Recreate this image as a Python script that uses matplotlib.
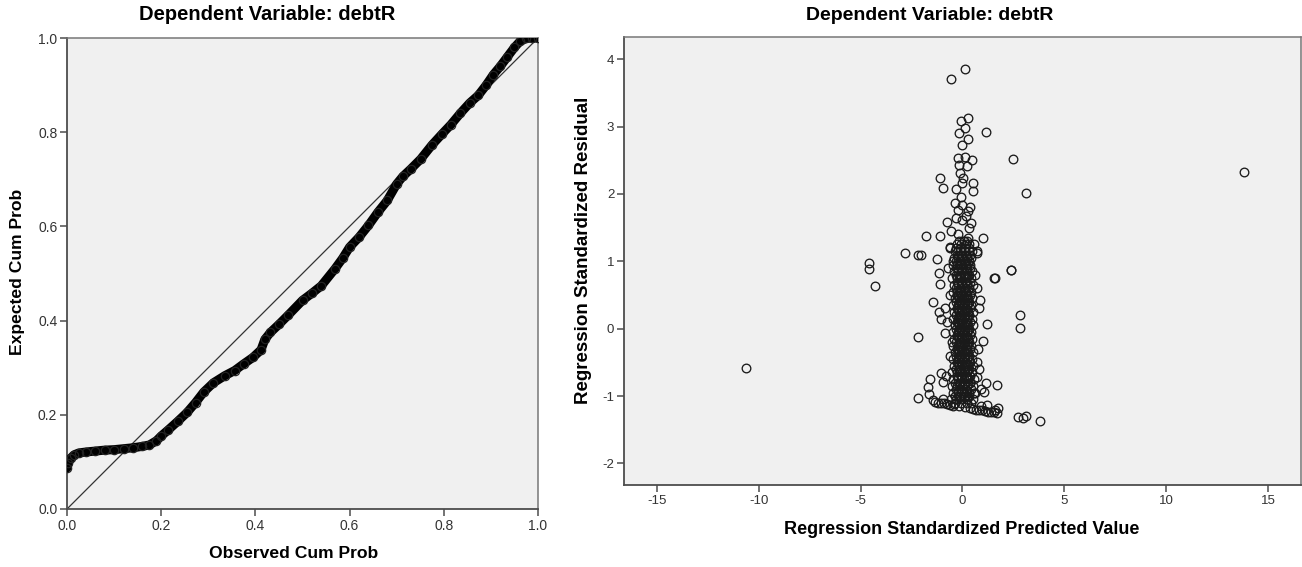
import matplotlib
matplotlib.use("Agg")
import matplotlib.pyplot as plt

plt.rcParams['font.family'] = ['Liberation Sans', 'DejaVu Sans']
plt.rcParams['axes.unicode_minus'] = False

# P-P plot of standardized residuals
observed_cum = [0.000, 0.003, 0.008, 0.015, 0.025, 0.040, 0.060, 0.080, 0.100, 0.120,
                0.140, 0.160, 0.175, 0.190, 0.200, 0.215, 0.235, 0.255, 0.273, 0.290,
                0.311, 0.335, 0.356, 0.375, 0.395, 0.412, 0.420, 0.432, 0.450, 0.470,
                0.500, 0.520, 0.540, 0.569, 0.585, 0.600, 0.620, 0.640, 0.660, 0.680,
                0.700, 0.713, 0.730, 0.751, 0.775, 0.797, 0.815, 0.835, 0.855, 0.873,
                0.890, 0.905, 0.920, 0.935, 0.950, 0.962, 0.975, 0.988, 1.000]
expected_cum = [0.087, 0.098, 0.108, 0.115, 0.119, 0.121, 0.123, 0.125, 0.126, 0.128,
                0.130, 0.133, 0.136, 0.145, 0.155, 0.168, 0.186, 0.205, 0.226, 0.248,
                0.268, 0.283, 0.294, 0.308, 0.322, 0.338, 0.360, 0.375, 0.392, 0.412,
                0.443, 0.458, 0.474, 0.510, 0.532, 0.556, 0.577, 0.602, 0.630, 0.655,
                0.690, 0.706, 0.722, 0.743, 0.773, 0.797, 0.816, 0.840, 0.862, 0.878,
                0.900, 0.922, 0.940, 0.960, 0.980, 0.993, 0.999, 1.000, 1.000]

# Scatterplot: standardized predicted value vs standardized residual
pred_outliers = [-10.6, 13.8, -4.6, -4.6, -4.3, -2.8, -2.2, -2.05, -2.18, -2.2,
                 2.5, 3.1, 1.15, 2.4, 1.6, 2.8, 2.8, 2.7, 2.95, 3.1, 3.8,
                 -0.58, 0.12]
resid_outliers = [-0.58, 2.33, 0.97, 0.88, 0.64, 1.12, 1.10, 1.09, -0.12, -1.03,
                  2.52, 2.02, 2.92, 0.87, 0.76, 0.20, 0.01, -1.31, -1.33, -1.30, -1.37,
                  3.70, 3.86]

pred_upper = [0.28, -0.08, 0.12, -0.19, 0.28, 0.0, -0.21, 0.12, 0.45, -0.16,
              0.20, -0.13, 0.03, -0.04, -1.08, -0.98, 0.53, 0.53, -0.33, -0.08,
              -0.37, -0.04, 0.25, -0.24, -0.78, 0.41, -0.04, -1.80, -1.08, 0.99,
              -1.27, -1.17, -1.11, 2.38, 1.56, -1.44, -1.14, -1.06, -0.86, 0.86,
              1.18, -0.62, 0.69, -0.86, 1.02, 0.69, 1.15, 1.71, 1.05, -1.60,
              -1.69, -1.64, -1.03, -0.95, -0.55, 0.30, 0.55, -0.60, 0.70, -0.30,
              0.15, 0.05, -0.20, 0.25, -0.45, 0.60, 0.70, -0.60, -0.70, 0.80,
              -0.75, 0.75, -0.60, 0.70, 0.80, -0.80, 0.90, 0.60, -0.50, 0.35]
resid_upper = [3.13, 3.08, 2.98, 2.90, 2.82, 2.73, 2.54, 2.55, 2.51, 2.43,
               2.41, 2.31, 2.23, 2.16, 2.23, 2.09, 2.16, 2.05, 2.08, 1.96,
               1.86, 1.84, 1.74, 1.76, 1.59, 1.57, 1.62, 1.38, 1.37, 1.35,
               1.03, 0.82, 0.66, 0.87, 0.75, 0.39, 0.25, 0.15, 0.30, 0.43,
               0.07, 1.22, 1.12, -0.07, -0.18, -0.71, -0.80, -0.83, -0.94, -0.75,
               -0.86, -0.97, -0.66, -0.79, 1.45, 1.50, 1.25, 1.20, 1.15, 1.65,
               1.68, 1.30, 1.40, 1.35, 1.00, 0.80, 0.60, 0.50, 0.90, 0.30,
               0.10, -0.30, -0.40, -0.50, -0.60, -0.70, -0.90, -0.95, -0.20, 1.80]

pred_core = [-0.25, -0.05, 0.15, 0.30,
             -0.35, -0.10, 0.10, 0.30, 0.45,
             -0.40, -0.20, 0.00, 0.20, 0.40,
             -0.45, -0.25, -0.05, 0.15, 0.35,
             -0.40, -0.20, 0.00, 0.20, 0.45,
             -0.50, -0.25, -0.05, 0.15, 0.40,
             -0.40, -0.20, 0.00, 0.20, 0.50,
             -0.45, -0.25, -0.05, 0.15, 0.40,
             -0.35, -0.15, 0.05, 0.25, 0.45,
             -0.45, -0.20, 0.00, 0.20, 0.40,
             -0.40, -0.15, 0.05, 0.25, 0.50,
             -0.45, -0.20, 0.00, 0.20, 0.45,
             -0.35, -0.15, 0.05, 0.25, 0.50,
             -0.45, -0.20, 0.00, 0.20, 0.40,
             -0.40, -0.15, 0.05, 0.25, 0.45,
             -0.45, -0.20, 0.00, 0.20, 0.40,
             -0.35, -0.15, 0.05, 0.25, 0.50,
             -0.45, -0.20, 0.00, 0.20, 0.45,
             -0.40, -0.15, 0.05, 0.25, 0.50,
             -0.50, -0.25, 0.00, 0.20, 0.45,
             -0.45, -0.20, 0.05, 0.25, 0.55,
             -0.50, -0.25, 0.00, 0.20, 0.50,
             -0.45, -0.20, 0.05, 0.30, 0.55,
             -0.55, -0.30, -0.05, 0.20, 0.50,
             -0.40, -0.15, 0.10, 0.35]
resid_core = [1.25, 1.25, 1.25, 1.25,
              1.15, 1.15, 1.15, 1.15, 1.15,
              1.05, 1.05, 1.05, 1.05, 1.05,
              0.95, 0.95, 0.95, 0.95, 0.95,
              0.85, 0.85, 0.85, 0.85, 0.85,
              0.75, 0.75, 0.75, 0.75, 0.75,
              0.65, 0.65, 0.65, 0.65, 0.65,
              0.55, 0.55, 0.55, 0.55, 0.55,
              0.45, 0.45, 0.45, 0.45, 0.45,
              0.35, 0.35, 0.35, 0.35, 0.35,
              0.25, 0.25, 0.25, 0.25, 0.25,
              0.15, 0.15, 0.15, 0.15, 0.15,
              0.05, 0.05, 0.05, 0.05, 0.05,
              -0.05, -0.05, -0.05, -0.05, -0.05,
              -0.15, -0.15, -0.15, -0.15, -0.15,
              -0.25, -0.25, -0.25, -0.25, -0.25,
              -0.35, -0.35, -0.35, -0.35, -0.35,
              -0.45, -0.45, -0.45, -0.45, -0.45,
              -0.55, -0.55, -0.55, -0.55, -0.55,
              -0.65, -0.65, -0.65, -0.65, -0.65,
              -0.75, -0.75, -0.75, -0.75, -0.75,
              -0.85, -0.85, -0.85, -0.85, -0.85,
              -0.95, -0.95, -0.95, -0.95, -0.95,
              -1.05, -1.05, -1.05, -1.05, -1.05,
              -1.12, -1.14, -1.16, -1.17]

# second, denser layer in the middle of the column
pred_dense = [-0.15, 0.05, 0.20,
              -0.30, -0.10, 0.10, 0.30,
              -0.25, -0.05, 0.15, 0.35,
              -0.30, -0.10, 0.10, 0.30,
              -0.25, -0.05, 0.15, 0.35,
              -0.30, -0.10, 0.10, 0.30,
              -0.25, -0.05, 0.15, 0.35,
              -0.30, -0.10, 0.10, 0.30,
              -0.25, -0.05, 0.15, 0.35,
              -0.30, -0.10, 0.10, 0.30,
              -0.25, -0.05, 0.15, 0.35,
              -0.30, -0.10, 0.10, 0.30,
              -0.25, -0.05, 0.15, 0.35,
              -0.30, -0.10, 0.10, 0.30,
              -0.25, -0.05, 0.15, 0.35,
              -0.30, -0.10, 0.10, 0.30,
              -0.25, -0.05, 0.15, 0.35,
              -0.30, -0.10, 0.10, 0.30,
              -0.25, -0.05, 0.15, 0.35,
              -0.30, -0.10, 0.10, 0.30,
              -0.25, -0.05, 0.15, 0.35,
              -0.35, -0.10, 0.10, 0.35,
              -0.30, -0.05, 0.15, 0.40,
              -0.35, -0.10, 0.10, 0.30,
              -0.35, -0.05, 0.20, 0.40]
resid_dense = [1.30, 1.30, 1.30,
               1.20, 1.20, 1.20, 1.20,
               1.10, 1.10, 1.10, 1.10,
               1.00, 1.00, 1.00, 1.00,
               0.90, 0.90, 0.90, 0.90,
               0.80, 0.80, 0.80, 0.80,
               0.70, 0.70, 0.70, 0.70,
               0.60, 0.60, 0.60, 0.60,
               0.50, 0.50, 0.50, 0.50,
               0.40, 0.40, 0.40, 0.40,
               0.30, 0.30, 0.30, 0.30,
               0.20, 0.20, 0.20, 0.20,
               0.10, 0.10, 0.10, 0.10,
               0.00, 0.00, 0.00, 0.00,
               -0.10, -0.10, -0.10, -0.10,
               -0.20, -0.20, -0.20, -0.20,
               -0.30, -0.30, -0.30, -0.30,
               -0.40, -0.40, -0.40, -0.40,
               -0.50, -0.50, -0.50, -0.50,
               -0.60, -0.60, -0.60, -0.60,
               -0.70, -0.70, -0.70, -0.70,
               -0.80, -0.80, -0.80, -0.80,
               -0.90, -0.90, -0.90, -0.90,
               -1.00, -1.00, -1.00, -1.00,
               -1.10, -1.10, -1.10, -1.10]

# third layer filling the darkest part of the column
pred_center = [-0.20, 0.00, 0.20,
               -0.15, 0.05, 0.25,
               -0.20, 0.00, 0.20,
               -0.15, 0.05, 0.25,
               -0.20, 0.00, 0.20,
               -0.15, 0.05, 0.25,
               -0.20, 0.00, 0.20,
               -0.15, 0.05, 0.25,
               -0.20, 0.00, 0.20,
               -0.15, 0.05, 0.25,
               -0.20, 0.00, 0.20,
               -0.15, 0.05, 0.25,
               -0.20, 0.00, 0.20,
               -0.15, 0.05, 0.25,
               -0.20, 0.00, 0.20,
               -0.15, 0.05, 0.25,
               -0.20, 0.00, 0.20,
               -0.15, 0.05, 0.25,
               -0.20, 0.00, 0.20,
               -0.15, 0.05, 0.25,
               -0.20, 0.00, 0.20,
               -0.15, 0.05, 0.25]
resid_center = [1.08, 1.08, 1.08,
                0.98, 0.98, 0.98,
                0.88, 0.88, 0.88,
                0.78, 0.78, 0.78,
                0.68, 0.68, 0.68,
                0.58, 0.58, 0.58,
                0.48, 0.48, 0.48,
                0.38, 0.38, 0.38,
                0.28, 0.28, 0.28,
                0.18, 0.18, 0.18,
                0.08, 0.08, 0.08,
                -0.02, -0.02, -0.02,
                -0.12, -0.12, -0.12,
                -0.22, -0.22, -0.22,
                -0.32, -0.32, -0.32,
                -0.42, -0.42, -0.42,
                -0.52, -0.52, -0.52,
                -0.62, -0.62, -0.62,
                -0.72, -0.72, -0.72,
                -0.82, -0.82, -0.82,
                -0.92, -0.92, -0.92,
                -1.02, -1.02, -1.02]

pred_floor = [-1.45, -1.35, -1.20, -1.05, -0.95, -0.90, -0.75, -0.60, -0.45, 0.50,
              0.65, 0.80, 0.90, 0.95, 1.10, 1.20, 1.25, 1.40, 1.55, 1.60, 1.70, 1.75]
resid_floor = [-1.06, -1.09, -1.10, -1.10, -1.05, -1.11, -1.12, -1.13, -1.14, -1.19,
               -1.20, -1.20, -1.15, -1.21, -1.22, -1.13, -1.23, -1.24, -1.24, -1.20, -1.25, -1.17]

bg = '#f0f0f0'
frame = '#4d4d4d'
tick_col = '#333333'

fig = plt.figure(figsize=(13.02, 5.67), dpi=100)

# ---- left: P-P plot
ax1 = fig.add_axes([67 / 1302, 1 - 509 / 567, 471 / 1302, 471 / 567])
ax1.set_facecolor(bg)
ax1.plot([0, 1], [0, 1], color='#333333', lw=0.9, zorder=2)
ax1.plot(observed_cum, expected_cum, color='black', lw=6.5,
         solid_capstyle='round', solid_joinstyle='round', zorder=3)
ax1.plot(observed_cum, expected_cum, 'o', mfc='none', mec='#222222',
         ms=6, mew=0.9, zorder=4)
ax1.set_xlim(0, 1)
ax1.set_ylim(0, 1)
ax1.set_xticks([0, 0.2, 0.4, 0.6, 0.8, 1.0])
ax1.set_yticks([0, 0.2, 0.4, 0.6, 0.8, 1.0])
ax1.set_xticklabels(['0.0', '0.2', '0.4', '0.6', '0.8', '1.0'])
ax1.set_yticklabels(['0.0', '0.2', '0.4', '0.6', '0.8', '1.0'])

# ---- right: residual scatter
ax2 = fig.add_axes([624 / 1302, 1 - 485 / 567, 677 / 1302, 448 / 567])
ax2.set_facecolor(bg)
for px, py in [(pred_core, resid_core), (pred_dense, resid_dense),
               (pred_center, resid_center), (pred_floor, resid_floor),
               (pred_upper, resid_upper), (pred_outliers, resid_outliers)]:
    ax2.plot(px, py, 'o', mfc='none', mec='#1a1a1a', ms=6.2, mew=0.95, zorder=3)
ax2.set_xlim(-16.6, 16.6)
ax2.set_ylim(-2.32, 4.33)
ax2.set_xticks([-15, -10, -5, 0, 5, 10, 15])
ax2.set_yticks([-2, -1, 0, 1, 2, 3, 4])

for ax, lsize in ((ax1, 10), (ax2, 9.5)):
    for side in ('left', 'bottom'):
        ax.spines[side].set_color(frame)
        ax.spines[side].set_linewidth(1.3)
    for side in ('top', 'right'):
        ax.spines[side].set_color('#777777')
        ax.spines[side].set_linewidth(1.1)
    ax.tick_params(direction='out', length=5, width=1.1, color=frame,
                   labelsize=lsize, labelcolor=tick_col, pad=2)

fig.text(267 / 1302, 1 - 15 / 567, 'Dependent Variable: debtR', ha='center',
         va='center', fontsize=14.5, fontweight='bold')
fig.text(930 / 1302, 1 - 15 / 567, 'Dependent Variable: debtR', ha='center',
         va='center', fontsize=14, fontweight='bold')
fig.text(294 / 1302, 1 - 553 / 567, 'Observed Cum Prob', ha='center', va='center',
         fontsize=12.6, fontweight='bold')
fig.text(18 / 1302, 1 - 272 / 567, 'Expected Cum Prob', ha='center', va='center',
         rotation=90, fontsize=12.6, fontweight='bold')
fig.text(962 / 1302, 1 - 530 / 567, 'Regression Standardized Predicted Value',
         ha='center', va='center', fontsize=13, fontweight='bold')
fig.text(583 / 1302, 1 - 250 / 567, 'Regression Standardized Residual', ha='center',
         va='center', rotation=90, fontsize=13.5, fontweight='bold')

fig.savefig('out.png', dpi=100, facecolor='white')
